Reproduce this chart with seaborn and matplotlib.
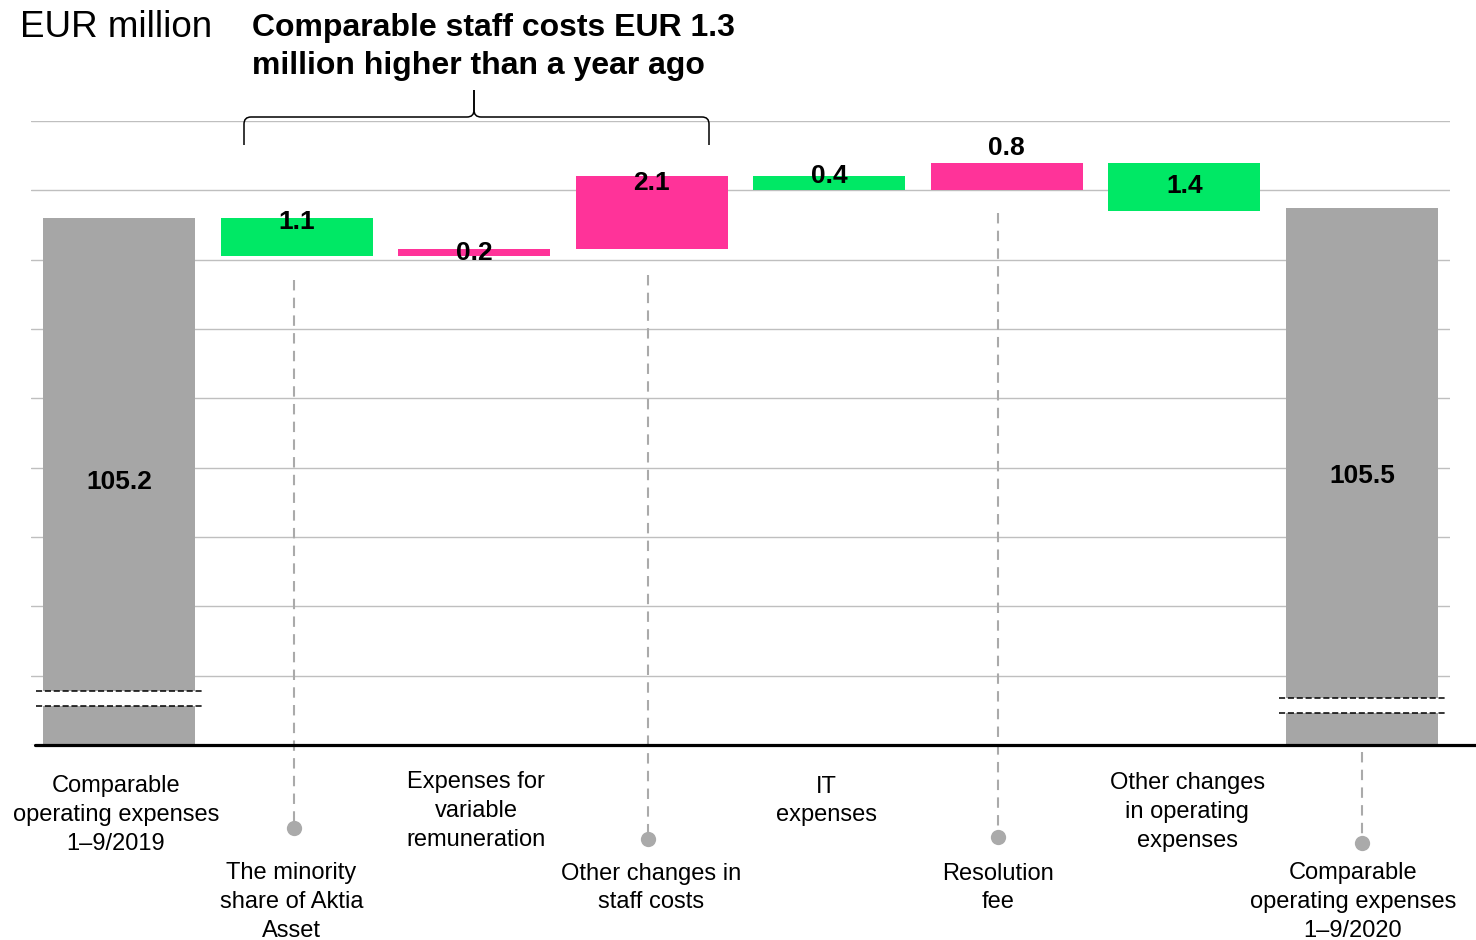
import numpy as np
import pandas as pd
import matplotlib
matplotlib.use("Agg")
import matplotlib.pyplot as plt
from matplotlib.path import Path
from matplotlib.patches import PathPatch, Rectangle
import seaborn as sns

# ---------------- data ----------------
categories = [
    "Comparable\noperating expenses\n1–9/2019",
    "The minority\nshare of Aktia\nAsset",
    "Expenses for\nvariable\nremuneration",
    "Other changes in\nstaff costs",
    "IT\nexpenses",
    "Resolution\nfee",
    "Other changes\nin operating\nexpenses",
    "Comparable\noperating expenses\n1–9/2020",
]
start_total = 105.2
changes = [-1.1, 0.2, 2.1, -0.4, 0.8, -1.4]
end_total = 105.5
value_labels = ["105.2", "1.1", "0.2", "2.1", "0.4", "0.8", "1.4", "105.5"]
axis_floor = 90
y_ticks = [90, 92, 94, 96, 98, 100, 102, 104, 106, 108]
title_unit = "EUR million"
title_lines = ["Comparable staff costs EUR 1.3", "million higher than a year ago"]

# ---------------- waterfall geometry ----------------
bottoms, heights, kinds = [axis_floor], [start_total - axis_floor], ["total"]
running = start_total
for c in changes:
    new = running + c
    bottoms.append(min(running, new))
    heights.append(abs(c))
    kinds.append("increase" if c > 0 else "decrease")
    running = new
bottoms.append(axis_floor)
heights.append(end_total - axis_floor)
kinds.append("total")

colors = {"total": "#A6A6A6", "increase": "#FF3399", "decrease": "#00E865"}
df = pd.DataFrame({"category": categories, "height": heights, "bottom": bottoms, "kind": kinds})

# ---------------- figure ----------------
sns.set_style("white")
plt.rcParams["font.family"] = ["Liberation Sans", "DejaVu Sans"]
plt.rcParams["text.color"] = "black"

W, H = 1476, 940
fig = plt.figure(figsize=(W / 100, H / 100), dpi=100)
ax_left, ax_right, ax_top, ax_bottom = 31, 1450, 121, 745
ax = fig.add_axes([ax_left / W, (H - ax_bottom) / H, (ax_right - ax_left) / W, (ax_bottom - ax_top) / H])

sns.barplot(data=df, x="category", y="height", bottom=df["bottom"].values,
            width=0.856, errorbar=None, color="#A6A6A6", linewidth=0,
            ax=ax, zorder=2)
for patch, k in zip(ax.patches, kinds):
    patch.set_facecolor(colors[k])

ax.set_xlim(-0.4956, 7.4956)
ax.set_ylim(axis_floor, 108)
ax.set_yticks(y_ticks)
ax.yaxis.grid(True, color="#BFBFBF", lw=1.0)
ax.xaxis.grid(False)
ax.set_axisbelow(True)
ax.tick_params(labelbottom=False, labelleft=False, length=0)
ax.set_xlabel("")
ax.set_ylabel("")
for s in ax.spines.values():
    s.set_visible(False)

ppu = (ax_bottom - ax_top) / (108 - axis_floor)   # pixels per unit
ppx = (ax_right - ax_left) / 7.9912                # pixels per category


def px2y(py):
    return axis_floor + (ax_bottom - py) / ppu


# baseline
ax.axhline(axis_floor, xmin=4 / (ax_right - ax_left), xmax=(W - ax_left) / (ax_right - ax_left),
           color="black", lw=2.3, clip_on=False, zorder=6)

# axis break marks on total bars
breaks = {0: (91.13, 91.57), 7: (90.92, 91.36)}
for i, (lo, hi) in breaks.items():
    ax.add_patch(Rectangle((i - 0.45, lo), 0.9, hi - lo, facecolor="white",
                           edgecolor="none", zorder=3))
    for yv in (lo, hi):
        ax.plot([i - 0.47, i + 0.47], [yv, yv], color="black", lw=1.1,
                ls=(0, (4, 1.8)), zorder=4)

# value labels
label_offsets_px = [None, -4, -4, -7, 0, 15, -23, None]
for i, (lab, b, h, off) in enumerate(zip(value_labels, bottoms, heights, label_offsets_px)):
    if off is None:
        y, dy = b + h / 2, 0
    else:
        y, dy = b + h, off * 0.72
    ax.annotate(lab, xy=(i, y), xytext=(0, dy), textcoords="offset points",
                ha="center", va="center", fontsize=19, fontweight="bold",
                color="black", zorder=7, annotation_clip=False)

# leader lines with dots for lower-row labels
leaders = {1: (-3, 280, 828), 3: (-4, 275, 839), 5: (-9, 213, 837), 7: (0, 752, 843)}
for i, (dx, y0, y1) in leaders.items():
    xx = i + dx / ppx
    ax.plot([xx, xx], [px2y(y0), px2y(y1)], color="#AAAAAA", lw=1.5,
            ls=(0, (5, 3.5)), clip_on=False, zorder=1)
    ax.plot([xx], [px2y(y1)], marker="o", ms=11, color="#AAAAAA",
            mec="none", clip_on=False, zorder=1)

# category labels
label_pos = [(-3, 815), (-5, 902), (2, 811), (-1, 888), (-3, 801), (-9, 888), (3, 812), (-9, 902)]
for i, (cat, (dx, py)) in enumerate(zip(categories, label_pos)):
    ax.text(i + dx / ppx, px2y(py), cat, ha="center", va="center",
            fontsize=17, color="black", linespacing=1.4, clip_on=False)

# titles
fig.text(20 / W, 1 - 37 / H, title_unit, fontsize=26.5, ha="left", va="baseline", color="black")
for line, py in zip(title_lines, (36, 74)):
    fig.text(252 / W, 1 - py / H, line, fontsize=23, fontweight="bold",
             ha="left", va="baseline", color="black")

# curly bracket over staff-cost items
def fp(x, y):
    return (x / W, 1 - y / H)

codes = [Path.MOVETO, Path.LINETO, Path.CURVE3, Path.CURVE3, Path.LINETO,
         Path.CURVE3, Path.CURVE3, Path.LINETO]
for xe, sgn in ((244, 1), (709, -1)):
    verts = [fp(xe, 145), fp(xe, 124), fp(xe, 117), fp(xe + 7 * sgn, 117),
             fp(474 - 7 * sgn, 117), fp(474, 117), fp(474, 110), fp(474, 90)]
    fig.add_artist(PathPatch(Path(verts, codes), fill=False, lw=1.1,
                             edgecolor="black", transform=fig.transFigure))

fig.savefig("out.png", dpi=100)
